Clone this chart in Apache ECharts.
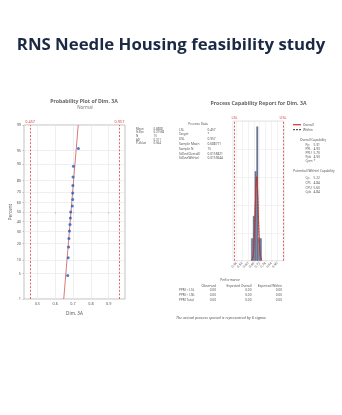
<!DOCTYPE html>
<html><head><meta charset="utf-8">
<script src="https://cdn.jsdelivr.net/npm/echarts@6/dist/echarts.min.js"></script>
<style>html,body{margin:0;padding:0;background:#fff}#c{width:342px;height:415px}</style>
</head><body><div id="c"></div>
<script>
// ---------- data ----------
const pageTitle = 'RNS Needle Housing feasibility study';
// probability plot
const probValues = [0.670,0.673,0.675,0.677,0.680,0.683,0.685,0.687,0.696,0.698,0.698,0.699,0.700,0.702,0.730];
const probPercents = [4.5,11,17.5,24,30.5,37,43.5,50,56.5,63,69.5,76,82.5,89,95.5];
const fitLineX = [0.648, 0.729];
const fitLinePct = [1, 99];
const percentTicks = [1,5,10,20,30,40,50,60,70,80,90,95,99];
const probXTicks = [0.5,0.6,0.7,0.8,0.9];
const specLimits = [0.457, 0.957];
const specLabelsProb = ['0.457','0.957'];
const specLabelsCap = ['LSL','USL'];
const probStatsLabels = ['Mean','StDev','N','AD','P-Value'];
const probStatsValues = ['0.6888','0.01568','15','0.311','0.564'];
// capability histogram
const binCenters = [0.641,0.659,0.677,0.695,0.713,0.731];
const binCounts = [1,2,4,6,1,1];
const capXTicks = [0.48,0.54,0.60,0.66,0.72,0.78,0.84,0.90];
const curveX = [0.635,0.650,0.660,0.670,0.677,0.683,0.689,0.695,0.701,0.708,0.718,0.728,0.743];
const overallCurve = [0.01,0.18,0.69,1.83,2.83,3.51,3.76,3.48,2.78,1.78,0.66,0.17,0.01];
const withinCurve = [0.02,0.19,0.72,1.84,2.80,3.45,3.69,3.42,2.75,1.78,0.69,0.19,0.02];
const processDataLabels = ['LSL','Target','USL','Sample Mean','Sample N','StDev(Overall)','StDev(Within)'];
const processDataValues = ['0.457','*','0.957','0.688771','15','0.0156821','0.0159644'];
const overallCapLabels = ['Pp','PPL','PPU','Ppk','Cpm'];
const overallCapValues = ['5.31','4.93','5.70','4.93','*'];
const withinCapLabels = ['Cp','CPL','CPU','Cpk'];
const withinCapValues = ['5.22','4.84','5.60','4.84'];
const perfHeaders = ['Observed','Expected Overall','Expected Within'];
const perfRows = ['PPM < LSL','PPM > USL','PPM Total'];
const perfValues = [['0.00','0.00','0.00'],['0.00','0.00','0.00'],['0.00','0.00','0.00']];

// ---------- helpers ----------
function normInv(p){
 const a=[-3.969683028665376e+01,2.209460984245205e+02,-2.759285104469687e+02,1.383577518672690e+02,-3.066479806614716e+01,2.506628277459239e+00];
 const b=[-5.447609879822406e+01,1.615858368580409e+02,-1.556989798598866e+02,6.680131188771972e+01,-1.328068155288572e+01];
 const c=[-7.784894002430293e-03,-3.223964580411365e-01,-2.400758277161838e+00,-2.549732539343734e+00,4.374664141464968e+00,2.938163982698783e+00];
 const d=[7.784695709041462e-03,3.224671290700398e-01,2.445134137142996e+00,3.754408661907416e+00];
 const pl=0.02425, ph=1-pl; let q,r;
 if(p<pl){q=Math.sqrt(-2*Math.log(p));return (((((c[0]*q+c[1])*q+c[2])*q+c[3])*q+c[4])*q+c[5])/((((d[0]*q+d[1])*q+d[2])*q+d[3])*q+1);}
 if(p<=ph){q=p-0.5;r=q*q;return (((((a[0]*r+a[1])*r+a[2])*r+a[3])*r+a[4])*r+a[5])*q/(((((b[0]*r+b[1])*r+b[2])*r+b[3])*r+b[4])*r+1);}
 q=Math.sqrt(-2*Math.log(1-p));return -(((((c[0]*q+c[1])*q+c[2])*q+c[3])*q+c[4])*q+c[5])/((((d[0]*q+d[1])*q+d[2])*q+d[3])*q+1);
}
const pz = p => normInv(p/100);
const zTicks = percentTicks.map(pz);
const FF = 'Noto Sans';
const G = '#555';
function T(x,y,text,size,o){
  o=o||{};
  return {type:'text',x:x,y:y,silent:true,style:{text:text,fontSize:size,fontFamily:FF,fill:o.fill||G,
    fontWeight:o.weight||'normal',fontStyle:o.style||'normal',textAlign:o.align||'left',textVerticalAlign:'middle'}};
}
const graphics = [];
// left plot texts
graphics.push(T(84,101.5,'Probability Plot of Dim. 3A',5.2,{align:'center',weight:'bold',fill:'#666'}));
graphics.push(T(85,107.7,'Normal',4.4,{align:'center',fill:'#777'}));
probStatsLabels.forEach((l,i)=>{
  graphics.push(T(136,128.8+i*3.65,l,2.9));
  graphics.push(T(153.5,128.8+i*3.65,probStatsValues[i],2.9));
});
// right plot texts
graphics.push(T(258.5,103.3,'Process Capability Report for Dim. 3A',5.2,{align:'center',weight:'bold',fill:'#666'}));
graphics.push(T(198,124.5,'Process Data',3.2,{align:'center'}));
processDataLabels.forEach((l,i)=>{
  graphics.push(T(179,129.8+i*4.78,l,3.2));
  graphics.push(T(207.5,129.8+i*4.78,processDataValues[i],3.2));
});
// legend
graphics.push({type:'line',shape:{x1:293,y1:124.7,x2:301,y2:124.7},style:{stroke:'#d0312d',lineWidth:1.2}});
graphics.push({type:'line',shape:{x1:293,y1:129.7,x2:301,y2:129.7},style:{stroke:'#555',lineWidth:1.2,lineDash:[2,1]}});
graphics.push(T(303,124.7,'Overall',3.2));
graphics.push(T(303,129.7,'Within',3.2));
graphics.push(T(313,140.5,'Overall Capability',3.2,{align:'center'}));
overallCapLabels.forEach((l,i)=>{
  graphics.push(T(305.5,145+i*4.1,l,3.2));
  graphics.push(T(313.5,145+i*4.1,overallCapValues[i],3.2));
});
graphics.push(T(314,171,'Potential (Within) Capability',3.2,{align:'center'}));
withinCapLabels.forEach((l,i)=>{
  graphics.push(T(305.5,178.3+i*4.75,l,3.2));
  graphics.push(T(313.5,178.3+i*4.75,withinCapValues[i],3.2));
});
// performance table
graphics.push(T(230,280,'Performance',3.2,{align:'center'}));
const colRight = [216,251.5,282];
perfHeaders.forEach((h,i)=>graphics.push(T(colRight[i],285.7,h,3.2,{align:'right'})));
perfRows.forEach((r,j)=>{
  graphics.push(T(179,290.5+j*5,r,3.2));
  perfValues[j].forEach((v,i)=>graphics.push(T(colRight[i],290.5+j*5,v,3.2,{align:'right'})));
});
graphics.push(T(176,318,'The actual process spread is represented by 6 sigma.',3.9,{style:'italic'}));

const specLine = (labels)=>({
  silent:true, symbol:'none',
  lineStyle:{color:'#e05555',type:[2,1.6],width:0.9},
  label:{show:true,position:'end',distance:1.5,fontSize:3.8,color:'#d94040',fontFamily:FF},
  data: specLimits.map((v,i)=>({xAxis:v,label:{formatter:labels[i]}}))
});

const option = {
  backgroundColor:'#fff',
  animation:false,
  title:{text:pageTitle,left:'center',top:32,textStyle:{fontFamily:'Open Sans',fontWeight:700,fontSize:16.8,color:'#1b2944'}},
  graphic:graphics,
  grid:[
    {left:24,top:125,width:101,height:174,show:true,borderColor:'#999',borderWidth:0.6,backgroundColor:'#fff'},
    {left:233,top:121,width:51,height:139.7,show:true,borderColor:'#ccc',borderWidth:0.5,backgroundColor:'#fff'}
  ],
  xAxis:[
    {type:'value',gridIndex:0,min:0.4255,max:0.991,
      name:'Dim. 3A',nameLocation:'middle',nameGap:12,nameTextStyle:{fontSize:4.6,color:G,fontFamily:FF},
      axisLine:{show:false},
      axisTick:{show:true,length:1.5,lineStyle:{color:'#999',width:0.5},customValues:probXTicks},
      axisLabel:{fontSize:3.8,color:G,fontFamily:FF,margin:3,customValues:probXTicks,formatter:v=>v.toFixed(1)},
      splitLine:{show:true,lineStyle:{color:'#e4e4e4',width:0.6}}},
    {type:'value',gridIndex:1,min:0.445,max:0.97,
      axisLine:{show:false},
      axisTick:{show:true,length:1.2,lineStyle:{color:'#aaa',width:0.4},customValues:capXTicks},
      axisLabel:{fontSize:3.3,color:G,fontFamily:FF,margin:2,rotate:45,customValues:capXTicks,formatter:v=>v.toFixed(2)},
      splitLine:{show:true,lineStyle:{color:'#e6e6e6',width:0.5}}}
  ],
  yAxis:[
    {type:'value',gridIndex:0,min:zTicks[0],max:zTicks[zTicks.length-1],
      name:'Percent',nameLocation:'middle',nameGap:10,nameTextStyle:{fontSize:4.6,color:G,fontFamily:FF},
      axisLine:{show:false},
      axisTick:{show:true,length:1.5,lineStyle:{color:'#999',width:0.5},customValues:zTicks},
      axisLabel:{fontSize:3.8,color:G,fontFamily:FF,margin:3,customValues:zTicks,
        formatter:v=>{let bi=0,bd=1e9;zTicks.forEach((z,i)=>{const dd=Math.abs(z-v);if(dd<bd){bd=dd;bi=i;}});return String(percentTicks[bi]);}},
      splitLine:{show:true,lineStyle:{color:'#e4e4e4',width:0.6}}},
    {type:'value',gridIndex:1,min:0,max:6.25,interval:1.25,
      axisLine:{show:false},axisTick:{show:false},axisLabel:{show:false},
      splitLine:{show:true,lineStyle:{color:'#e6e6e6',width:0.5}}}
  ],
  series:[
    {type:'line',xAxisIndex:0,yAxisIndex:0,symbol:'none',silent:true,z:3,
      lineStyle:{color:'#d46a6a',width:0.9},
      data:fitLineX.map((x,i)=>[x,pz(fitLinePct[i])]),
      markLine:specLine(specLabelsProb)},
    {type:'scatter',xAxisIndex:0,yAxisIndex:0,symbolSize:3,z:4,
      itemStyle:{color:'#1f5cc0'},
      data:probValues.map((x,i)=>[x,pz(probPercents[i])])},
    {type:'bar',xAxisIndex:1,yAxisIndex:1,barWidth:1.75,z:2,
      itemStyle:{color:'#6e7e9f',borderColor:'#3f4b66',borderWidth:0.3},
      data:binCenters.map((x,i)=>[x,binCounts[i]]),
      markLine:specLine(specLabelsCap)},
    {type:'line',xAxisIndex:1,yAxisIndex:1,symbol:'none',smooth:true,z:4,
      lineStyle:{color:'#555',width:0.9,type:[2,1]},
      data:curveX.map((x,i)=>[x,withinCurve[i]])},
    {type:'line',xAxisIndex:1,yAxisIndex:1,symbol:'none',smooth:true,z:5,
      lineStyle:{color:'#d0312d',width:0.9},
      data:curveX.map((x,i)=>[x,overallCurve[i]])}
  ]
};
echarts.init(document.getElementById('c'),null,{renderer:'canvas'}).setOption(option);
</script></body></html>
